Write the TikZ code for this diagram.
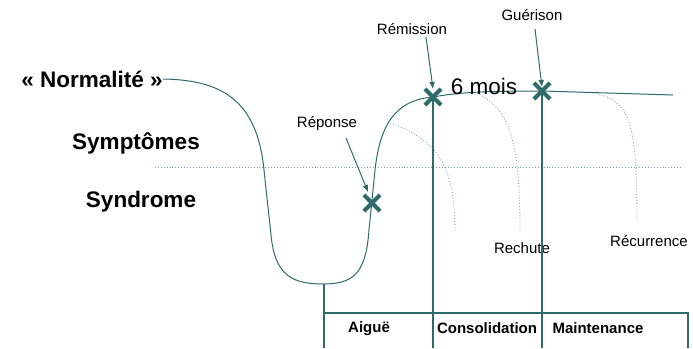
\documentclass[tikz,border=0pt]{standalone}
\usepackage{fontspec}
\setmainfont{Liberation Sans}
\usetikzlibrary{shapes.misc,arrows.meta,calc}
\definecolor{teal1}{HTML}{2F6B6A}
\definecolor{teal2}{HTML}{7FA6A5}
\tikzset{
  bigbold/.style={font=\fontsize{22.5}{25}\selectfont\bfseries, inner sep=0pt},
  small/.style={font=\fontsize{15}{17}\selectfont, inner sep=0pt},
  smallbold/.style={font=\fontsize{15}{17}\selectfont\bfseries, inner sep=0pt},
  xmark/.style={cross out, draw=teal1, line width=4.2pt, minimum size=12pt, inner sep=0pt},
  mainline/.style={draw=teal1, line width=1pt},
  rule/.style={draw=teal1, line width=1.2pt},
  dots/.style={draw=teal2, dotted, line width=0.9pt},
  arr/.style={draw=teal1, line width=1pt, -{Latex[length=7pt,width=6pt]}},
}
\begin{document}
\begin{tikzpicture}[x=1pt,y=-1pt]
\useasboundingbox (0,0) rectangle (693,348);
% left labels
\node[bigbold] (norm) at (92,79) {« Normalité »};
\node[bigbold] (sympt) at (136,143) {Symptômes};
\node[bigbold] (synd) at (141,202) {Syndrome};
% threshold dotted line
\coordinate (thA) at (155,167);
\coordinate (thB) at (682,167);
\draw[dots] (thA) -- (thB);
% markers
\node[xmark] (rep) at (372,203) {};
\node[xmark] (rem) at (433,97) {};
\node[xmark] (gue) at (542,91) {};
% main curve
\coordinate (bot) at (324,284);
\coordinate (endR) at (673,95);
\draw[mainline] (norm.east) .. controls (222,80) and (257,100) .. (264,170)
  -- (271,235) .. controls (275,278) and (295,284) .. (bot)
  .. controls (356,284) and (366,270) .. (369,230)
  -- (375,170) .. controls (380,125) and (395,100) .. (rem.center)
  .. controls (460,92) and (490,91) .. (gue.center) -- (endR);
% relapse dotted curves
\coordinate (d1s) at (390,123); \coordinate (d1e) at (455,232);
\coordinate (d2s) at (477,93);  \coordinate (d2e) at (520,232);
\coordinate (d3s) at (593,93);  \coordinate (d3e) at (637,223);
\draw[dots] (d1s) .. controls (440,140) and (455,170) .. (d1e);
\draw[dots] (d2s) .. controls (510,110) and (520,140) .. (d2e);
\draw[dots] (d3s) .. controls (630,100) and (637,120) .. (d3e);
% labels
\node[small] (remlab) at (412,29) {Rémission};
\node[small] (guelab) at (532,15) {Guérison};
\node[small] (replab) at (327,124) {Réponse};
\node[font=\fontsize{22.5}{25}\selectfont, inner sep=0pt] (mois) at (484,86) {6 mois};
\node[small] (rech) at (522,248) {Rechute};
\node[small] (recu) at (649,241) {Récurrence};
% arrows
\coordinate (remA) at (426,37);
\coordinate (gueA) at (535,29);
\coordinate (repA) at (346,138);
\draw[arr] (remA) -- ($(rem.center)+(0,-8)$);
\draw[arr] (gueA) -- ($(gue.center)+(0,-4)$);
\draw[arr] (repA) -- ($(rep.center)+(-4,-11)$);
% phase table
\coordinate (b1) at (324,348);
\coordinate (t1) at (324,313);
\coordinate (t2) at (688,313);
\coordinate (b2) at (688,348);
\coordinate (remB) at (433,348);
\coordinate (gueB) at (542,348);
\draw[rule] (bot) -- (b1);
\draw[rule] (t1) -- (t2) -- (b2);
\draw[rule] (rem.center) -- (remB);
\draw[rule] (gue.center) -- (gueB);
\node[smallbold] (aig) at (369,329) {Aiguë};
\node[smallbold] (cons) at (487,328) {Consolidation};
\node[smallbold] (maint) at (598,328) {Maintenance};
\end{tikzpicture}
\end{document}
